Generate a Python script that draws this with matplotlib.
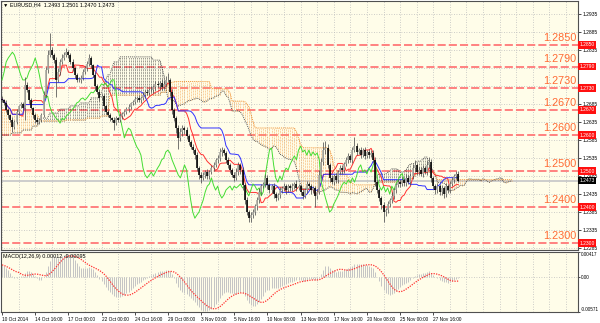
import numpy as np
import pandas as pd
import matplotlib
matplotlib.use('Agg')
import matplotlib.pyplot as plt

plt.rcParams['font.family'] = ['Liberation Sans', 'DejaVu Sans']

# ---------------- data (prices in pips above 1.2000) ----------------
close_pips = [
    697, 689, 669, 656, 642, 622, 636, 664, 680, 686,
    675, 739, 725, 697, 675, 656, 642, 636, 642, 656,
    711, 781, 822, 836, 822, 808, 753, 775, 803, 814,
    822, 830, 822, 803, 786, 767, 753, 753, 758, 775,
    786, 797, 814, 794, 767, 736, 719, 703, 708, 680,
    664, 656, 647, 642, 633, 647, 642, 653, 658, 664,
    672, 678, 689, 692, 700, 703, 697, 703, 711, 719,
    717, 725, 725, 733, 742, 739, 744, 733, 742, 753,
    753, 719, 669, 647, 619, 592, 608, 619, 614, 597,
    581, 567, 558, 544, 508, 489, 481, 489, 497, 486,
    497, 508, 517, 531, 536, 553, 558, 550, 531, 517,
    503, 489, 481, 497, 517, 503, 461, 419, 386, 369,
    378, 386, 403, 419, 442, 458, 464, 481, 461, 447,
    458, 436, 425, 433, 447, 453, 458, 447, 458, 453,
    458, 464, 453, 458, 442, 431, 447, 464, 458, 447,
    453, 431, 442, 489, 525, 558, 564, 517, 481, 469,
    486, 475, 497, 508, 503, 519, 531, 542, 531, 558,
    569, 553, 558, 544, 558, 542, 553, 544, 550, 531,
    469, 447, 425, 406, 386, 392, 408, 419, 431, 447,
    461, 469, 464, 475, 467, 481, 469, 486, 508, 517,
    497, 503, 492, 508, 497, 517, 525, 481, 458, 447,
    458, 442, 453, 436, 458, 447, 464, 475, 486, 493,
    473]
wick_hi = [
    6, 4, 8, 5, 3, 7, 5, 9, 4, 6, 5, 22, 8, 4, 6, 3, 5, 7, 4, 6,
    10, 8, 14, 47, 9, 6, 8, 12, 7, 10, 8, 12, 6, 5, 9, 4, 6, 8, 10, 7,
    6, 9, 12, 5, 4, 8, 6, 10, 5, 7, 4, 6, 5, 3, 7, 6, 4, 8, 5, 6,
    5, 7, 4, 6, 8, 5, 7, 4, 9, 6, 8, 5, 10, 6, 7, 9, 5, 12, 8, 10,
    19, 6, 8, 5, 7, 10, 12, 8, 6, 9, 7, 5, 8, 6, 10, 5, 7, 9, 6, 8,
    6, 8, 7, 5, 9, 12, 8, 6, 5, 7, 5, 6, 8, 10, 7, 5, 9, 6, 8, 5,
    7, 9, 6, 8, 10, 7, 6, 12, 8, 6, 5, 8, 6, 7, 9, 5, 8, 6, 7, 5,
    8, 6, 10, 5, 7, 9, 6, 8, 5, 7, 6, 5, 8, 15, 12, 22, 18, 10, 6, 8,
    7, 9, 6, 8, 10, 7, 9, 8, 6, 10, 25, 8, 6, 9, 7, 10, 6, 8, 7, 9,
    8, 6, 7, 5, 9, 6, 8, 7, 10, 6, 7, 9, 5, 8, 6, 10, 7, 9, 12, 14,
    6, 8, 7, 9, 6, 10, 14, 8, 6, 7, 9, 6, 8, 5, 10, 7, 9, 8, 6, 7,
    8]
wick_lo = [
    5, 7, 4, 8, 6, 14, 5, 6, 8, 4, 6, 33, 5, 7, 4, 8, 10, 6, 5, 7,
    5, 6, 8, 5, 9, 7, 48, 6, 8, 5, 7, 5, 9, 6, 8, 10, 7, 5, 9, 6,
    5, 8, 6, 9, 7, 10, 6, 8, 5, 9, 7, 5, 8, 6, 19, 5, 7, 6, 8, 5,
    6, 8, 5, 7, 6, 9, 5, 8, 6, 7, 5, 7, 6, 9, 8, 5, 10, 7, 6, 8,
    7, 10, 12, 8, 14, 30, 9, 10, 12, 8, 10, 7, 9, 12, 8, 10, 14, 7, 9, 8,
    7, 6, 9, 5, 8, 7, 10, 6, 9, 8, 9, 7, 10, 6, 8, 12, 15, 10, 9, 11,
    12, 9, 8, 10, 7, 9, 6, 8, 12, 9, 7, 10, 8, 6, 9, 7, 8, 10, 6, 9,
    8, 7, 9, 6, 10, 8, 7, 9, 6, 10, 7, 31, 8, 6, 9, 7, 10, 8, 12, 6,
    9, 7, 8, 6, 10, 8, 6, 9, 7, 8, 6, 9, 7, 8, 6, 10, 7, 9, 6, 8,
    10, 8, 9, 12, 28, 10, 8, 9, 7, 10, 8, 6, 9, 7, 10, 8, 6, 9, 7, 10,
    8, 9, 7, 10, 6, 8, 9, 12, 8, 10, 7, 9, 10, 12, 8, 9, 7, 6, 8, 9,
    3]
# cloud spans for the first bars on screen (history before the window)
span_a_early = [600]*5 + [606]*5 + [614]*5 + [625]*3 + [636] + [647]*4 + [661]*5 + \
               [672]*5 + [681]*5 + [689]*5 + [703]*5 + [719, 736, 753, 767] + \
               [767, 786, 803, 803, 803] + [817]*16 + [808]*4 + [792, 767, 731]
span_b_early = [669]*10 + [664]*5 + [656]*3 + [644] + [639]*12 + [642]*10 + \
               [647]*7 + [653]*4 + [711]*25 + [719]*3
levels = [1.2850, 1.2790, 1.2730, 1.2670, 1.2600, 1.2500, 1.2400, 1.2300]
date_labels = ["10 Oct 2014", "14 Oct 16:00", "17 Oct 00:00", "22 Oct 00:00",
               "24 Oct 16:00", "29 Oct 08:00", "3 Nov 00:00", "5 Nov 16:00",
               "10 Nov 08:00", "13 Nov 00:00", "17 Nov 16:00", "20 Nov 08:00",
               "25 Nov 00:00", "27 Nov 16:00"]
title_text = "EURUSD,H4  1.2493 1.2501 1.2470 1.2473"
macd_text = "MACD(12,26,9) 0.00012 -0.00095"
ema_fast_seed, ema_slow_seed = 1.2695, 1.2673
macd_max, macd_min = 0.00417, -0.00571

# ---------------- derived series ----------------
base = 1.2
c = base + np.array(close_pips) / 10000.0
n = len(c)
o = np.r_[c[0] + 0.0004, c[:-1]]
o[-1] = 1.2493
hi = np.maximum(o, c) + np.array(wick_hi) / 10000.0
lo = np.minimum(o, c) - np.array(wick_lo) / 10000.0
idx = np.arange(n)

H = pd.Series(hi); L = pd.Series(lo)
tenkan = (H.rolling(9, min_periods=1).max() + L.rolling(9, min_periods=1).min()) / 2
kijun = (H.rolling(26, min_periods=1).max() + L.rolling(26, min_periods=1).min()) / 2
spanA = np.full(n + 26, np.nan); spanB = np.full(n + 26, np.nan)
spanA[26:] = ((tenkan + kijun) / 2).values
spanB[26:] = ((H.rolling(52, min_periods=1).max() + L.rolling(52, min_periods=1).min()) / 2).values
ne = len(span_a_early)
spanA[:ne] = base + np.array(span_a_early) / 10000.0
spanB[:ne] = base + np.array(span_b_early) / 10000.0
cidx = np.arange(n + 26)

# MACD (MT4 style: EMA diff, SMA signal)
a12, a26 = 2 / 13, 2 / 27
e12 = np.empty(n); e26 = np.empty(n)
p12, p26 = ema_fast_seed, ema_slow_seed
for i in range(n):
    p12 = p12 + a12 * (c[i] - p12); p26 = p26 + a26 * (c[i] - p26)
    e12[i], e26[i] = p12, p26
macd = e12 - e26
signal = pd.Series(macd).rolling(9, min_periods=1).mean().values

# ---------------- figure ----------------
W, Hh = 600, 323
fig = plt.figure(figsize=(6, 3.23), dpi=100, facecolor='white')
BG = '#FFFDE9'
left_px, right_px = 1, 578
ax = fig.add_axes([left_px / W, 1 - 250 / Hh, (right_px - left_px) / W, 249 / Hh], facecolor=BG)
axm = fig.add_axes([left_px / W, 1 - 312 / Hh, (right_px - left_px) / W, 60 / Hh], facecolor=BG)

xmax = 277.8
ymin, ymax = 1.22806, 1.29722
for a in (ax, axm):
    a.set_xlim(-0.5, xmax)
    for s in a.spines.values():
        s.set_color('#505050'); s.set_linewidth(0.8)
    a.set_xticks(np.arange(0, 280, 8), minor=True)
    a.grid(True, which='minor', axis='x', ls=(0, (1, 2)), color='#BDBDBD', lw=0.6)
    a.yaxis.tick_right()
ax.set_ylim(ymin, ymax)

# grid + price scale (labels under the level boxes are hidden, as in the terminal)
yt = np.round(np.arange(1.2285, 1.2940, 0.005), 4)
ax.set_yticks(yt)
ax.set_yticklabels(['' if min(abs(v - lv) for lv in levels) < 0.0008 else '%.4f' % v for v in yt])
ax.grid(True, which='major', axis='y', ls=(0, (1, 2)), color='#BDBDBD', lw=0.6)
ax.set_xticks([])
ax.tick_params(axis='y', labelsize=3.6, length=2, pad=1.5, width=0.5)
ax.tick_params(axis='x', which='minor', length=0)

# levels
for lv in levels:
    ax.axhline(lv, color='#FF7878', lw=1.3, dashes=(4.5, 1.7), zorder=2)
    ax.text(xmax - 0.8, lv + 0.0006, '%.4f' % lv, ha='right', va='bottom',
            fontsize=7.8, color='#FF6A33', zorder=6)
    ax.text(1.003, lv, '%.4f' % lv, transform=ax.get_yaxis_transform(), ha='left', va='center',
            fontsize=3.6, color='white', zorder=7, clip_on=False,
            bbox=dict(boxstyle='square,pad=0.25', fc='#FF1010', ec='none'))

# current price
ax.axhline(c[-1], color='#C9C9C9', lw=1.3, zorder=1)
ax.text(1.003, c[-1], '%.4f' % c[-1], transform=ax.get_yaxis_transform(), ha='left', va='center',
        fontsize=3.6, color='white', zorder=7, clip_on=False,
        bbox=dict(boxstyle='square,pad=0.25', fc='#000000', ec='none'))

# cloud
ok = ~np.isnan(spanA) & ~np.isnan(spanB)
bull = ok & (spanA >= spanB)
bear = ok & (spanA < spanB)
ax.vlines(cidx[bull], np.minimum(spanA, spanB)[bull], np.maximum(spanA, spanB)[bull],
          colors='#3A3A3A', linestyles=(0, (1, 1.2)), lw=0.5, zorder=3)
ax.vlines(cidx[bear], np.minimum(spanA, spanB)[bear], np.maximum(spanA, spanB)[bear],
          colors='#F5A04A', linestyles=(0, (1, 1.2)), lw=0.5, zorder=3)
ax.plot(cidx, spanA, ls=(0, (1, 1)), color='#555555', lw=0.7, zorder=3)
ax.plot(cidx, spanB, ls=(0, (1, 1)), color='#F09030', lw=0.7, zorder=3)

# ichimoku lines
ax.plot(idx, tenkan, color='#FF3030', lw=0.7, zorder=4)
ax.plot(idx, kijun, color='#3030FF', lw=0.7, zorder=4)
ax.plot(idx[:-26], c[26:], color='#44DD33', lw=0.7, zorder=4)

# candles
up = c >= o
ax.vlines(idx, lo, hi, colors='#505050', lw=0.55, zorder=5)
bot = np.minimum(o, c); top = np.maximum(o, c)
top = np.where(top - bot < 0.00008, bot + 0.00008, top)
ax.vlines(idx[up], bot[up], top[up], colors='#A8A8A0', lw=1.15, zorder=5)
ax.vlines(idx[~up], bot[~up], top[~up], colors='#000000', lw=1.15, zorder=5)

# title
ax.text(0.004, 0.993, '\u25BC ' + title_text, transform=ax.transAxes, ha='left', va='top',
        fontsize=3.9, color='black', zorder=8)

# MACD panel
axm.set_ylim(macd_min, macd_max)
axm.vlines(idx, 0, macd, colors='#C4C4C4', lw=0.7, zorder=3)
axm.plot(idx, signal, ls=(0, (1, 1)), color='#FF3030', lw=0.9, zorder=4)
axm.axhline(0, ls=(0, (1, 2)), color='#BDBDBD', lw=0.6, zorder=1)
axm.set_yticks([macd_max, 0, macd_min])
axm.set_yticklabels(['%.5f' % macd_max, '0.00', '%.5f' % macd_min])
axm.tick_params(axis='y', labelsize=3.3, length=1.5, pad=0.8, width=0.5)
lbl = axm.get_yticklabels()
lbl[0].set_va('top'); lbl[2].set_va('bottom')
axm.set_xticks(np.arange(0, 16 * len(date_labels), 16))
axm.set_xticklabels(date_labels)
axm.tick_params(axis='x', which='major', labelsize=3.4, length=2, pad=1.5, width=0.5)
axm.tick_params(axis='x', which='minor', length=0)
for t in axm.get_xticklabels():
    t.set_ha('left')
axm.text(0.004, 0.97, macd_text, transform=axm.transAxes, ha='left', va='top',
         fontsize=3.9, color='black', zorder=8)

fig.savefig('out.png', dpi=100, facecolor='white')
